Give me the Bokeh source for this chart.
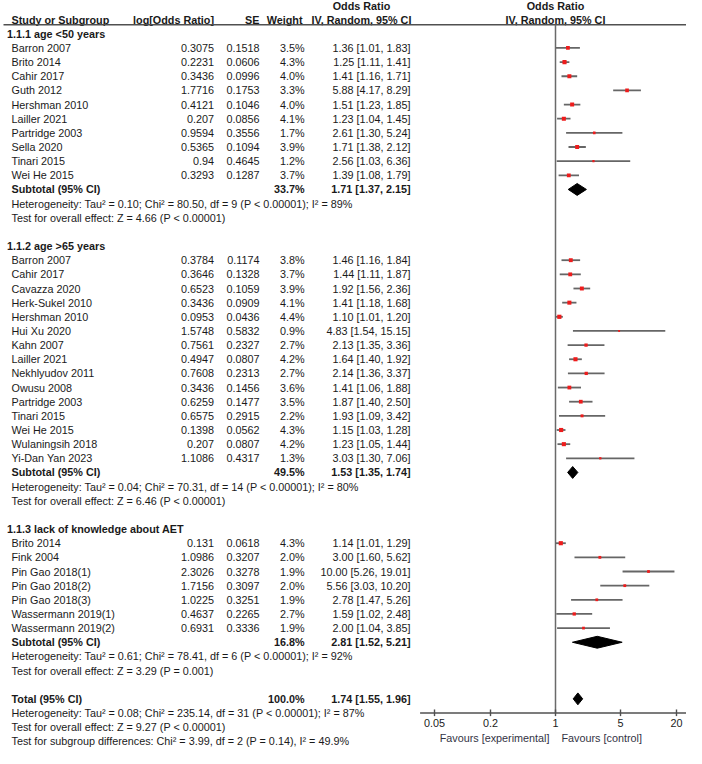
from bokeh.plotting import figure
from bokeh.models import Range1d, LogScale, ColumnDataSource
from bokeh.core.properties import value
from bokeh.embed import file_html
from bokeh.resources import INLINE

# ---------------- data ----------------
hdr1 = "1.1.1 age <50 years"
names1 = ["Barron 2007", "Brito 2014", "Cahir 2017", "Guth 2012", "Hershman 2010",
          "Lailler 2021", "Partridge 2003", "Sella 2020", "Tinari 2015", "Wei He 2015"]
logor1 = [0.3075, 0.2231, 0.3436, 1.7716, 0.4121, 0.207, 0.9594, 0.5365, 0.94, 0.3293]
se1 = [0.1518, 0.0606, 0.0996, 0.1753, 0.1046, 0.0856, 0.3556, 0.1094, 0.4645, 0.1287]
w1 = [3.5, 4.3, 4.0, 3.3, 4.0, 4.1, 1.7, 3.9, 1.2, 3.7]
or1 = [1.36, 1.25, 1.41, 5.88, 1.51, 1.23, 2.61, 1.71, 2.56, 1.39]
lo1 = [1.01, 1.11, 1.16, 4.17, 1.23, 1.04, 1.30, 1.38, 1.03, 1.08]
hi1 = [1.83, 1.41, 1.71, 8.29, 1.85, 1.45, 5.24, 2.12, 6.36, 1.79]
sub1 = (33.7, 1.71, 1.37, 2.15)
het1 = "Heterogeneity: Tau\u00b2 = 0.10; Chi\u00b2 = 80.50, df = 9 (P < 0.00001); I\u00b2 = 89%"
test1 = "Test for overall effect: Z = 4.66 (P < 0.00001)"

hdr2 = "1.1.2 age >65 years"
names2 = ["Barron 2007", "Cahir 2017", "Cavazza 2020", "Herk-Sukel 2010", "Hershman 2010",
          "Hui Xu 2020", "Kahn 2007", "Lailler 2021", "Nekhlyudov 2011", "Owusu 2008",
          "Partridge 2003", "Tinari 2015", "Wei He 2015", "Wulaningsih 2018", "Yi-Dan Yan 2023"]
logor2 = [0.3784, 0.3646, 0.6523, 0.3436, 0.0953, 1.5748, 0.7561, 0.4947, 0.7608, 0.3436,
          0.6259, 0.6575, 0.1398, 0.207, 1.1086]
se2 = [0.1174, 0.1328, 0.1059, 0.0909, 0.0436, 0.5832, 0.2327, 0.0807, 0.2313, 0.1456,
       0.1477, 0.2915, 0.0562, 0.0807, 0.4317]
w2 = [3.8, 3.7, 3.9, 4.1, 4.4, 0.9, 2.7, 4.2, 2.7, 3.6, 3.5, 2.2, 4.3, 4.2, 1.3]
or2 = [1.46, 1.44, 1.92, 1.41, 1.10, 4.83, 2.13, 1.64, 2.14, 1.41, 1.87, 1.93, 1.15, 1.23, 3.03]
lo2 = [1.16, 1.11, 1.56, 1.18, 1.01, 1.54, 1.35, 1.40, 1.36, 1.06, 1.40, 1.09, 1.03, 1.05, 1.30]
hi2 = [1.84, 1.87, 2.36, 1.68, 1.20, 15.15, 3.36, 1.92, 3.37, 1.88, 2.50, 3.42, 1.28, 1.44, 7.06]
sub2 = (49.5, 1.53, 1.35, 1.74)
het2 = "Heterogeneity: Tau\u00b2 = 0.04; Chi\u00b2 = 70.31, df = 14 (P < 0.00001); I\u00b2 = 80%"
test2 = "Test for overall effect: Z = 6.46 (P < 0.00001)"

hdr3 = "1.1.3 lack of knowledge about AET"
names3 = ["Brito 2014", "Fink 2004", "Pin Gao 2018(1)", "Pin Gao 2018(2)", "Pin Gao 2018(3)",
          "Wassermann 2019(1)", "Wassermann 2019(2)"]
logor3 = [0.131, 1.0986, 2.3026, 1.7156, 1.0225, 0.4637, 0.6931]
se3 = [0.0618, 0.3207, 0.3278, 0.3097, 0.3251, 0.2265, 0.3336]
w3 = [4.3, 2.0, 1.9, 2.0, 1.9, 2.7, 1.9]
or3 = [1.14, 3.00, 10.00, 5.56, 2.78, 1.59, 2.00]
lo3 = [1.01, 1.60, 5.26, 3.03, 1.47, 1.02, 1.04]
hi3 = [1.29, 5.62, 19.01, 10.20, 5.26, 2.48, 3.85]
sub3 = (16.8, 2.81, 1.52, 5.21)
het3 = "Heterogeneity: Tau\u00b2 = 0.61; Chi\u00b2 = 78.41, df = 6 (P < 0.00001); I\u00b2 = 92%"
test3 = "Test for overall effect: Z = 3.29 (P = 0.001)"

total = (100.0, 1.74, 1.55, 1.96)
total_het = "Heterogeneity: Tau\u00b2 = 0.08; Chi\u00b2 = 235.14, df = 31 (P < 0.00001); I\u00b2 = 87%"
total_test = "Test for overall effect: Z = 9.27 (P < 0.00001)"
subgroup_test = "Test for subgroup differences: Chi\u00b2 = 3.99, df = 2 (P = 0.14), I\u00b2 = 49.9%"

tick_values = [0.05, 0.2, 1, 5, 20]
tick_labels = ["0.05", "0.2", "1", "5", "20"]
favours_left = "Favours [experimental]"
favours_right = "Favours [control]"

# ---------------- layout ----------------
W, H = 686, 748
ROW0_FY = 5.0
PITCH = 14.15
y_top = -ROW0_FY / PITCH
y_bot = (H - ROW0_FY) / PITCH

X_ONE = 555.0   # frame px of OR = 1
PX_DEC = 93.0   # px per decade
or_start = 10 ** (-X_ONE / PX_DEC)
or_end = 10 ** ((W - X_ONE) / PX_DEC)

TXT = "#1a1a1a"
FONT = value("Liberation Sans")
FS = "10.8px"

p = figure(width=W, height=H, x_range=Range1d(0, W), y_range=Range1d(y_bot, y_top),
           output_backend="svg", toolbar_location=None, min_border=0,
           x_axis_location=None, y_axis_location=None, outline_line_color=None)
p.grid.visible = False
p.background_fill_color = "white"
p.border_fill_color = "white"
p.extra_x_ranges = {"or": Range1d(or_start, or_end)}
p.extra_x_scales = {"or": LogScale()}


def add_text(xs, ys, texts, align="left", bold=False, rng=None, x_offset=0, color=TXT, size=FS):
    src = ColumnDataSource(dict(x=xs, y=ys, text=texts))
    kw = {"x_range_name": rng} if rng else {}
    p.text(x="x", y="y", text="text", source=src, text_align=align, text_baseline="middle",
           text_font=FONT, text_font_size=size,
           text_font_style="bold" if bold else "normal",
           text_color=color, x_offset=x_offset, **kw)


X_HDR = 6.5
X_NAME = 11.0
X_LOG = 213.5
X_SE = 259.0
X_W = 304.0
X_CI = 410.0
X_CI_HDR = 361.0
LINE_ROW = 1.36

# headers
add_text([X_CI_HDR], [0.05], ["Odds Ratio"], align="center", bold=True)
add_text([1], [0.05], ["Odds Ratio"], align="center", bold=True, rng="or")
add_text([X_NAME], [1], ["Study or Subgroup"], bold=True)
add_text([X_LOG, X_SE, X_W - 2], [1, 1, 1], ["log[Odds Ratio]", "SE", "Weight"], align="right", bold=True)
add_text([X_CI_HDR], [1], ["IV, Random, 95% CI"], align="center", bold=True)
add_text([1], [1], ["IV, Random, 95% CI"], align="center", bold=True, rng="or")
p.segment(x0=[3], x1=[W], y0=[LINE_ROW], y1=[LINE_ROW], line_color="#505050", line_width=1.4)

groups = [
    (hdr1, names1, logor1, se1, w1, or1, lo1, hi1, sub1, het1, test1),
    (hdr2, names2, logor2, se2, w2, or2, lo2, hi2, sub2, het2, test2),
    (hdr3, names3, logor3, se3, w3, or3, lo3, hi3, sub3, het3, test3),
]

st_y, st_or, st_lo, st_hi, st_w = [], [], [], [], []
dia_xs, dia_ys = [], []
DH = 0.42
r = 2
for hdr, names, lg, se, w, orv, lo, hi, sub, het, test in groups:
    add_text([X_HDR], [r], [hdr], bold=True)
    rows = [r + 1 + i for i in range(len(names))]
    add_text([X_NAME] * len(names), rows, names)
    add_text([X_LOG] * len(names), rows, [str(v) for v in lg], align="right")
    add_text([X_SE] * len(names), rows, [str(v) for v in se], align="right")
    add_text([X_W] * len(names), rows, [f"{v:.1f}%" for v in w], align="right")
    add_text([X_CI] * len(names), rows,
             [f"{a:.2f} [{b:.2f}, {c:.2f}]" for a, b, c in zip(orv, lo, hi)], align="right")
    st_y += rows; st_or += orv; st_lo += lo; st_hi += hi; st_w += w
    rs = rows[-1] + 1
    add_text([X_NAME], [rs], ["Subtotal (95% CI)"], bold=True)
    add_text([X_W], [rs], [f"{sub[0]:.1f}%"], align="right", bold=True)
    add_text([X_CI], [rs], [f"{sub[1]:.2f} [{sub[2]:.2f}, {sub[3]:.2f}]"], align="right", bold=True)
    dia_xs.append([sub[2], sub[1], sub[3], sub[1]])
    dia_ys.append([rs, rs - DH, rs, rs + DH])
    add_text([X_NAME, X_NAME], [rs + 1, rs + 2], [het, test])
    r = rs + 4

# total
rt = r
add_text([X_NAME], [rt], ["Total (95% CI)"], bold=True)
add_text([X_W], [rt], [f"{total[0]:.1f}%"], align="right", bold=True)
add_text([X_CI], [rt], [f"{total[1]:.2f} [{total[2]:.2f}, {total[3]:.2f}]"], align="right", bold=True)
dia_xs.append([total[2], total[1], total[3], total[1]])
dia_ys.append([rt, rt - DH, rt, rt + DH])
add_text([X_NAME] * 3, [rt + 1, rt + 2, rt + 3], [total_het, total_test, subgroup_test])

# forest
axis_row = rt + 1
p.segment(x0=[1], x1=[1], y0=[LINE_ROW], y1=[axis_row], x_range_name="or",
          line_color="#6a6a6a", line_width=1.5)
p.segment(x0="lo", x1="hi", y0="y", y1="y", x_range_name="or",
          source=ColumnDataSource(dict(lo=st_lo, hi=st_hi, y=st_y)),
          line_color="#666666", line_width=1.8)
p.scatter(x="x", y="y", size="s", marker="square", x_range_name="or",
          source=ColumnDataSource(dict(x=st_or, y=st_y, s=[2.0 * v ** 0.5 for v in st_w])),
          fill_color="#ee1c1c", line_color=None)
p.patches(xs=dia_xs, ys=dia_ys, x_range_name="or", fill_color="black", line_color="black")

# axis
p.segment(x0=[0.035], x1=[25.5], y0=[axis_row], y1=[axis_row], x_range_name="or",
          line_color="#505050", line_width=1.4)
p.segment(x0=tick_values, x1=tick_values, y0=[axis_row - 0.25] * len(tick_values),
          y1=[axis_row + 0.22] * len(tick_values), x_range_name="or",
          line_color="#505050", line_width=1.4)
add_text(tick_values, [axis_row + 0.72] * len(tick_values), tick_labels, align="center", rng="or")
add_text([1], [axis_row + 1.75], [favours_left], align="right", rng="or", x_offset=-6, color="#333344")
add_text([1], [axis_row + 1.75], [favours_right], align="left", rng="or", x_offset=6, color="#333344")

open("out.html", "w").write(file_html(p, INLINE))
